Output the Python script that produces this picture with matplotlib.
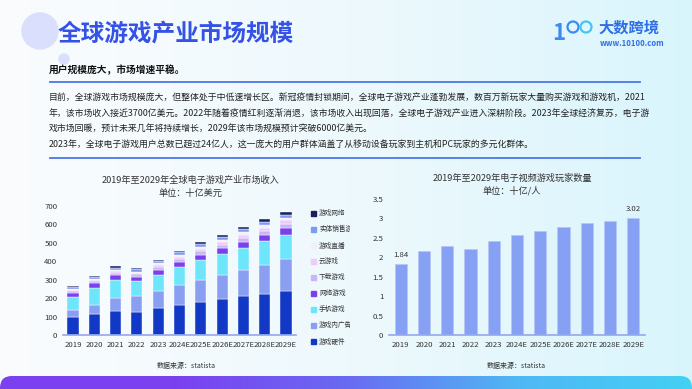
import numpy as np
import matplotlib.pyplot as plt
from matplotlib.patches import Circle, Rectangle, FancyBboxPatch
from matplotlib.colors import LinearSegmentedColormap

plt.rcParams['font.family'] = ['Noto Sans CJK SC', 'DejaVu Sans']

years = ['2019', '2020', '2021', '2022', '2023', '2024E', '2025E', '2026E', '2027E', '2028E', '2029E']

# revenue segments, billion USD (bottom -> top)
hardware = [97, 115, 130, 127, 145, 162, 178, 194, 209, 225, 240]
in_game_ads = [39, 49, 72, 82, 95, 108, 123, 132, 145, 156, 170]
mobile = [72, 93, 98, 82, 87, 98, 105, 113, 120, 127, 131]
online = [18, 23, 23, 25, 28, 28, 30, 31, 33, 34, 37]
download = [13, 14, 15, 14, 16, 18, 19, 20, 21, 22, 23]
cloud = [5, 5, 7, 7, 9, 11, 13, 15, 17, 19, 21]
streaming = [6, 6, 7, 7, 8, 9, 10, 11, 12, 13, 14]
physical = [13, 12, 14, 13, 13, 14, 15, 16, 16, 17, 16]
network = [5, 5, 6, 6, 7, 9, 10, 11, 12, 14, 14]

seg_names = ['游戏硬件', '游戏内广告', '手机游戏', '网络游戏', '下载游戏', '云游戏', '游戏直播', '实体销售游戏', '游戏网络']
seg_vals = [hardware, in_game_ads, mobile, online, download, cloud, streaming, physical, network]
seg_colors = ['#1238C6', '#8A9FF1', '#6DE5FB', '#7B3FEE', '#C9B6F6', '#EDCBFA', '#F3EEFB', '#7D9BEF', '#1B1F5C']

# players, billions
players = [1.84, 2.15, 2.30, 2.22, 2.42, 2.58, 2.68, 2.78, 2.87, 2.94, 3.02]

W, H = 692, 389
fig = plt.figure(figsize=(W / 100, H / 100), dpi=100)

# background
bg = fig.add_axes([0, 0, 1, 1])
bg.axis('off')
bgcmap = LinearSegmentedColormap.from_list('bg', ['#FAFCFE', '#EEF9FD', '#D9F5FC'])
bg.imshow(np.linspace(0, 1, 256)[None, :], cmap=bgcmap, extent=[0, W, H, 0], aspect='auto', zorder=0)

bg.add_patch(Circle((40, 31), 18, color='#D9DFFC', zorder=1))
bg.add_patch(Circle((64, 59), 5, color='#D9DFFC', zorder=1))
bg.text(58, 34, '全球游戏产业市场规模', fontsize=17, fontweight='bold', color='#3552E6', va='center', zorder=2)

# logo
bg.text(552, 33, '1', fontsize=16, fontweight='bold', color='#3D8AF0', va='center')
bg.add_patch(Circle((573, 27), 5.5, fill=False, ec='#3D8AF0', lw=1.6))
bg.add_patch(Circle((586, 27), 5.5, fill=False, ec='#45C6F2', lw=1.6))
bg.text(598, 28, '大数跨境', fontsize=11, fontweight='bold', color='#2E6FE8', va='center')
bg.text(600, 43, 'www.10100.com', fontsize=5.6, fontweight='bold', color='#2E6FE8', va='center')

bg.text(49, 70, '用户规模庞大，市场增速平稳。', fontsize=7, fontweight='bold', color='#111111', va='center')
bg.plot([50, 640], [82, 82], color='#4A78E8', lw=1.3)
bg.plot([50, 640], [158, 158], color='#4A78E8', lw=1.3)

para = [
    '目前，全球游戏市场规模庞大，但整体处于中低速增长区。新冠疫情封锁期间，全球电子游戏产业蓬勃发展，数百万新玩家大量购买游戏和游戏机，2021',
    '年，该市场收入接近3700亿美元。2022年随着疫情红利逐渐消退，该市场收入出现回落，全球电子游戏产业进入深耕阶段。2023年全球经济复苏，电子游',
    '戏市场回暖，预计未来几年将持续增长，2029年该市场规模预计突破6000亿美元。',
    '2023年，全球电子游戏用户总数已超过24亿人，这一庞大的用户群体涵盖了从移动设备玩家到主机和PC玩家的多元化群体。',
]
for i, line in enumerate(para):
    bg.text(49, 98 + i * 15.7, line, fontsize=6.4, color='#222222', va='center')

bg.text(190, 180, '2019年至2029年全球电子游戏产业市场收入', fontsize=6.6, color='#333333', ha='center', va='center')
bg.text(190, 193, '单位：十亿美元', fontsize=6.6, color='#333333', ha='center', va='center')
bg.text(512, 178, '2019年至2029年电子视频游戏玩家数量', fontsize=6.6, color='#333333', ha='center', va='center')
bg.text(512, 191, '单位：十亿/人', fontsize=6.6, color='#333333', ha='center', va='center')
bg.text(186, 366, '数据来源：statista', fontsize=5, color='#333333', ha='center', va='center')
bg.text(516, 366, '数据来源：statista', fontsize=5, color='#333333', ha='center', va='center')

# bottom band
band_cmap = LinearSegmentedColormap.from_list('band', ['#7B40F0', '#7B40F0', '#6A6AF2', '#4FB8F4', '#44D0F5'])
band = bg.imshow(np.linspace(0, 1, 256)[None, :], cmap=band_cmap, extent=[0, W, H, 376], aspect='auto', zorder=4)
bp = FancyBboxPatch((0, 376), W, 30, boxstyle='round,pad=0,rounding_size=12', transform=bg.transData, fc='none', ec='none')
bg.add_patch(bp)
band.set_clip_path(bp)
bg.set_xlim(0, W)
bg.set_ylim(H, 0)

# manual legend, in its own axes so the labels get cut at the panel edge like the reference
lg = fig.add_axes([305 / W, 1 - 350 / H, 45 / W, 145 / H])
lg.set_xlim(305, 350)
lg.set_ylim(350, 205)
lg.axis('off')
for i, (name, col) in enumerate(zip(seg_names[::-1], seg_colors[::-1])):
    y = 213.5 + i * 16
    lg.add_patch(Rectangle((311, y - 2.5), 5, 5, color=col))
    lg.text(319, y, name, fontsize=4.8, color='#333333', va='center', clip_on=True)

x = np.arange(len(years))

def style(ax):
    ax.set_facecolor('none')
    for s in ['top', 'right', 'left']:
        ax.spines[s].set_visible(False)
    ax.spines['bottom'].set_color('#93A8EE')
    ax.spines['bottom'].set_linewidth(1.2)
    ax.tick_params(length=0, labelsize=5.6, colors='#333333', pad=4)
    ax.set_xticks(x)
    ax.set_xticklabels(years)

# left stacked chart
ax1 = fig.add_axes([63 / W, 1 - 335 / H, 233 / W, 129 / H])
bottom = np.zeros(len(years))
for vals, col in zip(seg_vals, seg_colors):
    ax1.bar(x, vals, 0.52, bottom=bottom, color=col, edgecolor='white', linewidth=0.3)
    bottom += np.array(vals)
ax1.set_ylim(0, 700)
ax1.set_yticks(range(0, 701, 100))
ax1.set_xlim(-0.47, 10.47)
style(ax1)

# right players chart
ax2 = fig.add_axes([389 / W, 1 - 335 / H, 256 / W, 136 / H])
ax2.bar(x, players, 0.52, color='#86A0F3', edgecolor='#B7C6F8', linewidth=0.5)
ax2.set_ylim(0, 3.5)
ax2.set_yticks([0, 0.5, 1, 1.5, 2, 2.5, 3, 3.5])
ax2.set_yticklabels(['0', '0.5', '1', '1.5', '2', '2.5', '3', '3.5'])
ax2.set_xlim(-0.5, 10.5)
for i in [0, len(players) - 1]:
    ax2.text(x[i], players[i] + 0.12, f'{players[i]:.2f}', fontsize=5.6, color='#333333', ha='center', va='bottom')
style(ax2)

fig.savefig('out.png', dpi=100)
